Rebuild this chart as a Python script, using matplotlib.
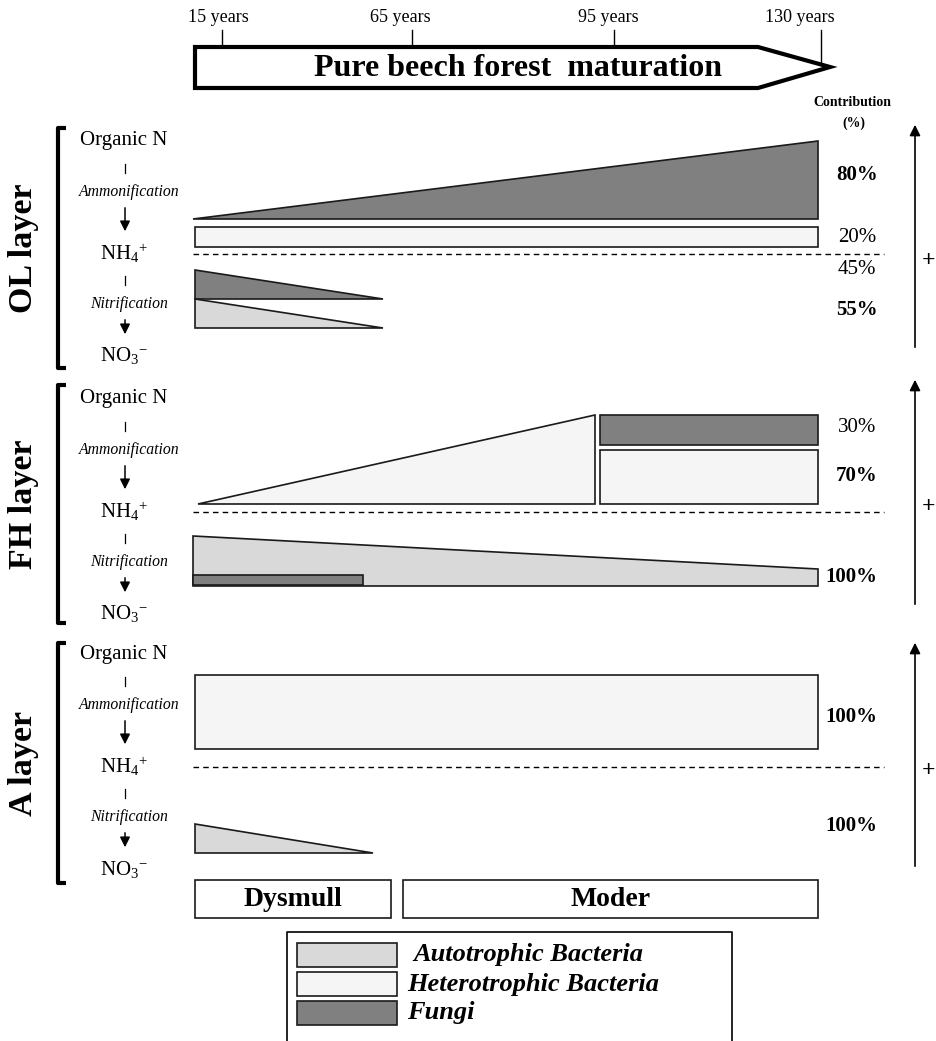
import numpy as np
import matplotlib
matplotlib.use('Agg')
import matplotlib.pyplot as plt
from matplotlib.patches import Polygon, Rectangle

plt.rcParams['font.family'] = ['Liberation Serif', 'DejaVu Serif']
plt.rcParams['mathtext.fontset'] = 'custom'
plt.rcParams['mathtext.rm'] = 'Liberation Serif'
plt.rcParams['mathtext.it'] = 'Liberation Serif:italic'
plt.rcParams['mathtext.bf'] = 'Liberation Serif:bold'

# ---- data ----
ages = [15, 65, 95, 130]
age_labels = ['%d years' % a for a in ages]
title = 'Pure beech forest  maturation'
layers = ['OL layer', 'FH layer', 'A layer']
steps = ['Organic N', r'NH$_4$$^{+}$', r'NO$_3$$^{-}$']
processes = ['Ammonification', 'Nitrification']
# contribution labels per layer: (text, bold)
contrib = {
    'OL layer': [('80%', True), ('20%', False), ('45%', False), ('55%', True)],
    'FH layer': [('30%', False), ('70%', True), ('100%', True)],
    'A layer': [('100%', True), ('100%', True)],
}
humus = ['Dysmull', 'Moder']
groups = ['Autotrophic Bacteria', 'Heterotrophic Bacteria', 'Fungi']
colors = {'Autotrophic Bacteria': '#d9d9d9', 'Heterotrophic Bacteria': '#f5f5f5', 'Fungi': '#808080'}

# ---- layout (pixels) ----
W, H = 937, 1041
tick_px = [222, 412, 614, 821]
label_px = [218, 400, 608, 800]
x0, x_end = 195, 818
brackets = [(128, 368), (385, 623), (643, 883)]
nh4_y = [253, 511, 766]
arrow_span = [(350, 122), (607, 377), (869, 640)]
plus_y = [261, 506, 770]

fig = plt.figure(figsize=(W / 100, H / 100), dpi=100)
ax = fig.add_axes([0, 0, 1, 1])
ax.set_xlim(0, W)
ax.set_ylim(H, 0)
ax.axis('off')

ec = '#1a1a1a'


def poly(pts, group, lw=1.2):
    ax.add_patch(Polygon(pts, closed=True, facecolor=colors[group], edgecolor=ec, lw=lw))


def pct(txt, bold, x, y):
    ax.text(x, y, txt, ha='center', va='center', fontsize=15,
            fontweight='bold' if bold else 'normal')


# ---- top arrow ----
arrow_pts = [(x0, 47), (758, 47), (830, 67), (758, 88), (x0, 88)]
ax.add_patch(Polygon(arrow_pts, closed=True, facecolor='white', edgecolor='black', lw=3))
ax.text(518, 68, title, ha='center', va='center', fontsize=23, fontweight='bold')
for i, lab in enumerate(age_labels):
    ybot = 64 if i == len(ages) - 1 else 47
    ax.plot([tick_px[i], tick_px[i]], [30, ybot], color='black', lw=1)
    ax.text(label_px[i], 17, lab, ha='center', va='center', fontsize=13)

ax.text(852, 102, 'Contribution', ha='center', va='center', fontsize=10, fontweight='bold')
ax.text(854, 123, '(%)', ha='center', va='center', fontsize=10, fontweight='bold')

# ---- left flow column per layer ----
for li, name in enumerate(layers):
    top, bot = brackets[li]
    ax.plot([66, 58, 58, 66], [top, top, bot, bot], color='black', lw=3, solid_capstyle='butt')
    ax.text(24, (top + bot) / 2, name, rotation=90, ha='center', va='center',
            fontsize=24.5, fontweight='bold')
    yn = nh4_y[li]
    ys = [yn - 112, yn, yn + 103]
    for s, y in zip(steps, ys):
        ax.text(124, y, s, ha='center', va='center', fontsize=15)
    for k in range(2):
        yd = ys[k] + 23
        ax.plot([125, 125], [yd, yd + 9], color='black', lw=0.9)
        ax.text(129, ys[k] + 51, processes[k], ha='center', va='center', fontsize=11.3, style='italic')
        ax.annotate('', xy=(125, ys[k + 1] - 19), xytext=(125, ys[k] + 64),
                    arrowprops=dict(arrowstyle='-|>', color='black', lw=1.1, mutation_scale=15))
    # dashed NH4+ line
    ax.plot([193, 884], [yn + 1, yn + 1], color='black', lw=1, ls=(0, (4, 3)))
    # contribution arrow
    ya, yb = arrow_span[li]
    ax.annotate('', xy=(915, yb), xytext=(915, ya),
                arrowprops=dict(arrowstyle='-|>', color='black', lw=1.2, mutation_scale=16))
    ax.text(929, plus_y[li], '+', ha='center', va='center', fontsize=17, fontweight='bold')

# ---- OL layer ----
poly([(193, 219), (x_end, 141), (x_end, 219)], 'Fungi')
poly([(x0, 227), (x_end, 227), (x_end, 247), (x0, 247)], 'Heterotrophic Bacteria')
poly([(x0, 270), (x0, 299), (383, 299)], 'Fungi')
poly([(x0, 299), (x0, 328), (383, 328)], 'Autotrophic Bacteria')
for (txt, b), y in zip(contrib['OL layer'], [175, 237, 270, 310]):
    pct(txt, b, 857, y)

# ---- FH layer ----
poly([(198, 504), (595, 415), (595, 504)], 'Heterotrophic Bacteria')
poly([(600, 415), (x_end, 415), (x_end, 445), (600, 445)], 'Fungi')
poly([(600, 450), (x_end, 450), (x_end, 504), (600, 504)], 'Heterotrophic Bacteria')
poly([(193, 536), (x_end, 569), (x_end, 586), (193, 586)], 'Autotrophic Bacteria')
poly([(193, 575), (363, 575), (363, 585), (193, 585)], 'Fungi')
for (txt, b), y, xx in zip(contrib['FH layer'], [428, 476, 577], [857, 857, 851]):
    pct(txt, b, xx, y)

# ---- A layer ----
poly([(x0, 675), (x_end, 675), (x_end, 749), (x0, 749)], 'Heterotrophic Bacteria')
poly([(x0, 824), (x0, 853), (373, 853)], 'Autotrophic Bacteria')
for (txt, b), y in zip(contrib['A layer'], [717, 826]):
    pct(txt, b, 851, y)

# ---- humus forms ----
for name, (xa, xb) in zip(humus, [(x0, 391), (403, x_end)]):
    ax.add_patch(Rectangle((xa, 880), xb - xa, 38, facecolor='white', edgecolor=ec, lw=1.2))
    ax.text((xa + xb) / 2, 899, name, ha='center', va='center', fontsize=20, fontweight='bold')

# ---- legend ----
ax.plot([287, 287, 732, 732], [1045, 932, 932, 1045], color='black', lw=1.2)
for g, y, tx in zip(groups, [943, 972, 1001], [413, 407, 407]):
    ax.add_patch(Rectangle((297, y), 100, 24, facecolor=colors[g], edgecolor=ec, lw=1.2))
    ax.text(tx, y + 12, g, ha='left', va='center', fontsize=19, fontweight='bold', style='italic')

fig.savefig('out.png', dpi=100)
